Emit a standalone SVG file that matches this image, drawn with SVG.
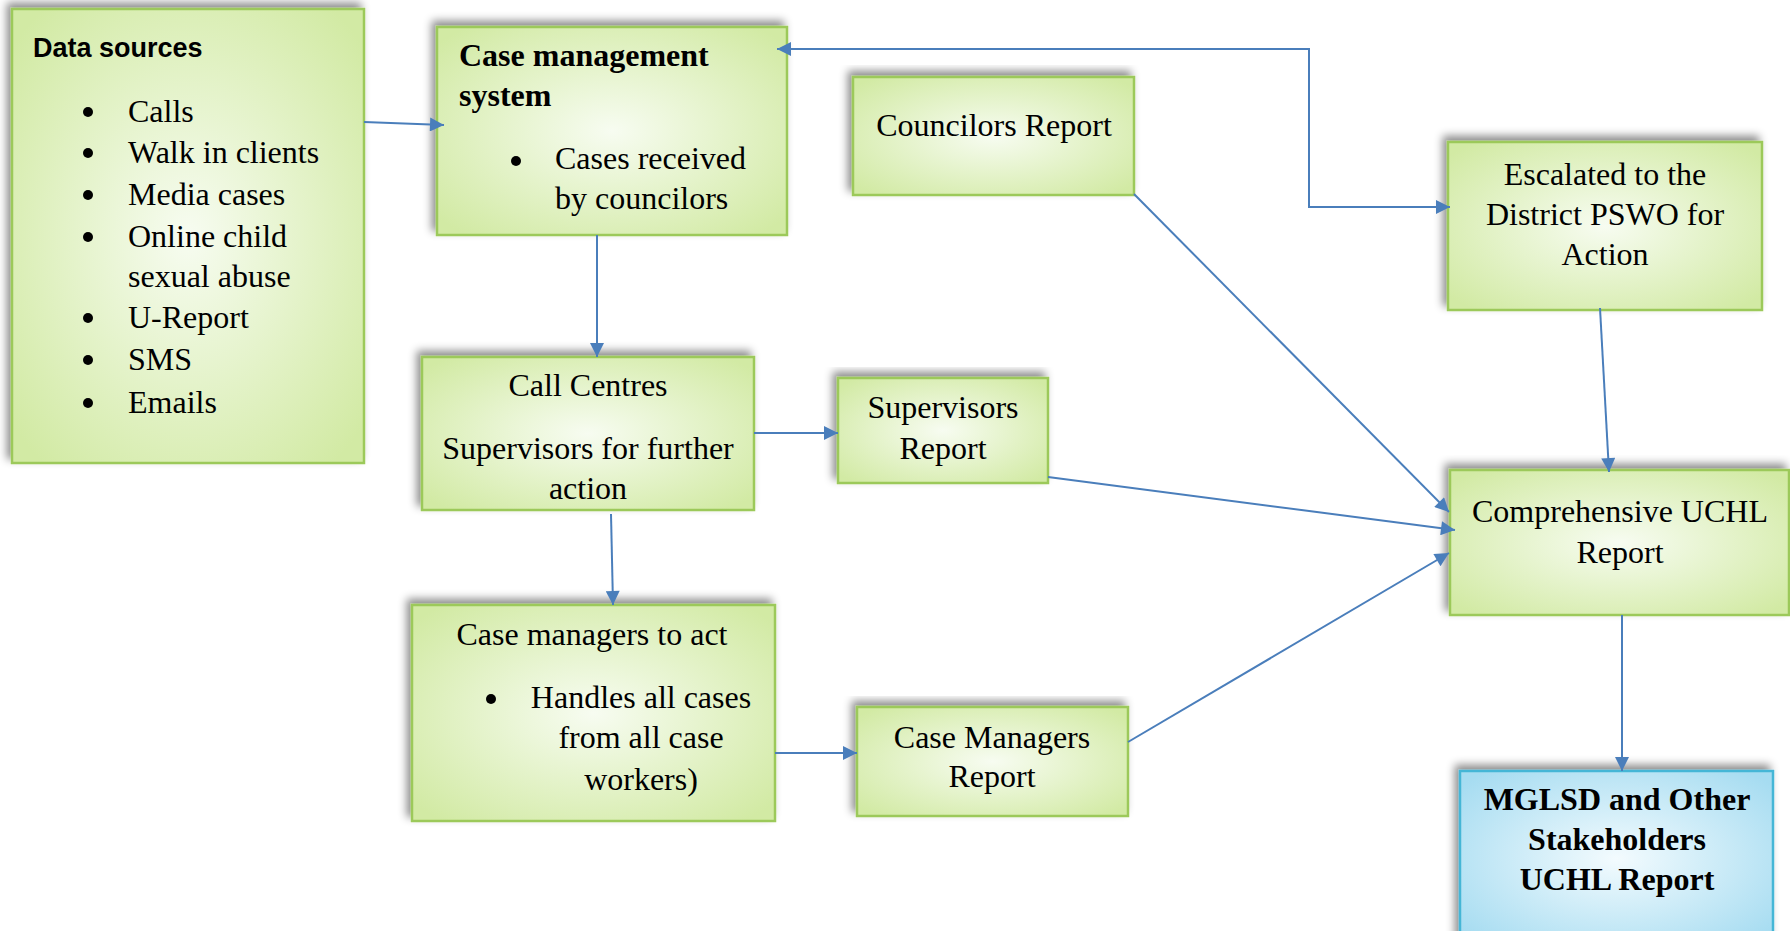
<svg xmlns="http://www.w3.org/2000/svg" width="1790" height="931" viewBox="0 0 1790 931">
<defs>
<radialGradient id="g" cx="50%" cy="50%" r="65%">
<stop offset="0" stop-color="#f7fcf1"/>
<stop offset="1" stop-color="#d2eaa4"/>
</radialGradient>
<radialGradient id="b" cx="50%" cy="50%" r="65%">
<stop offset="0" stop-color="#f3fbfe"/>
<stop offset="1" stop-color="#a6dcf1"/>
</radialGradient>
<filter id="sh" x="-10%" y="-10%" width="120%" height="120%">
<feDropShadow dx="-4" dy="-5" stdDeviation="4" flood-color="#000" flood-opacity="0.45"/>
</filter>
<marker id="ar" viewBox="0 0 10 10" refX="10" refY="5" markerUnits="userSpaceOnUse" markerWidth="17" markerHeight="14" orient="auto-start-reverse">
<path d="M0,0 L10,5 L0,10 z" fill="#4a7ebb"/>
</marker>
</defs>
<style>
.n{fill:url(#g);stroke:#9cc95a;stroke-width:2.5;filter:url(#sh)}
.nb{fill:url(#b);stroke:#44b6d6;stroke-width:2.5;filter:url(#sh)}
.t{font-family:"Liberation Serif","Times New Roman",serif;font-size:32px;fill:#000}
.c{text-anchor:middle}
.bd{font-weight:bold}
.s{font-family:"Liberation Sans",Arial,sans-serif;font-size:27px;font-weight:bold;fill:#000}
.e{fill:none;stroke:#4a7ebb;stroke-width:2;marker-end:url(#ar)}
</style>
<rect width="1790" height="931" fill="#fff"/>
<g id="data-sources">
<rect class="n" x="12" y="9" width="352" height="454"/>
<text class="s" x="33" y="57">Data sources</text>
<g fill="#000"><circle cx="88" cy="112" r="5"/><circle cx="88" cy="153" r="5"/><circle cx="88" cy="195" r="5"/><circle cx="88" cy="237" r="5"/><circle cx="88" cy="318" r="5"/><circle cx="88" cy="360" r="5"/><circle cx="88" cy="403" r="5"/></g>
<text class="t" x="128" y="122">Calls</text>
<text class="t" x="128" y="163">Walk in clients</text>
<text class="t" x="128" y="205">Media cases</text>
<text class="t" x="128" y="247">Online child</text>
<text class="t" x="128" y="287">sexual abuse</text>
<text class="t" x="128" y="328">U-Report</text>
<text class="t" x="128" y="370">SMS</text>
<text class="t" x="128" y="413">Emails</text>
</g>
<g id="case-management-system">
<rect class="n" x="437" y="27" width="350" height="208"/>
<text class="t bd" x="459" y="66">Case management</text>
<text class="t bd" x="459" y="106">system</text>
<circle cx="516" cy="161" r="5" fill="#000"/>
<text class="t" x="555" y="169">Cases received</text>
<text class="t" x="555" y="209">by councilors</text>
</g>
<g id="councilors-report">
<rect class="n" x="853" y="77" width="281" height="118"/>
<text class="t c" x="994" y="136">Councilors Report</text>
</g>
<g id="escalated">
<rect class="n" x="1448" y="142" width="314" height="168"/>
<text class="t c" x="1605" y="185">Escalated to the</text>
<text class="t c" x="1605" y="225">District PSWO for</text>
<text class="t c" x="1605" y="265">Action</text>
</g>
<g id="call-centres">
<rect class="n" x="422" y="357" width="332" height="153"/>
<text class="t c" x="588" y="396">Call Centres</text>
<text class="t c" x="588" y="459">Supervisors for further</text>
<text class="t c" x="588" y="499">action</text>
</g>
<g id="supervisors-report">
<rect class="n" x="838" y="378" width="210" height="105"/>
<text class="t c" x="943" y="418">Supervisors</text>
<text class="t c" x="943" y="459">Report</text>
</g>
<g id="comprehensive">
<rect class="n" x="1450" y="470" width="339" height="145"/>
<text class="t c" x="1620" y="522">Comprehensive UCHL</text>
<text class="t c" x="1620" y="563">Report</text>
</g>
<g id="case-managers-act">
<rect class="n" x="412" y="605" width="363" height="216"/>
<text class="t c" x="592" y="645">Case managers to act</text>
<circle cx="491" cy="699" r="5" fill="#000"/>
<text class="t c" x="641" y="708">Handles all cases</text>
<text class="t c" x="641" y="748">from all case</text>
<text class="t c" x="641" y="790">workers)</text>
</g>
<g id="case-managers-report">
<rect class="n" x="857" y="707" width="271" height="109"/>
<text class="t c" x="992" y="748">Case Managers</text>
<text class="t c" x="992" y="787">Report</text>
</g>
<g id="mglsd">
<rect class="nb" x="1460" y="771" width="313" height="175"/>
<text class="t c bd" x="1617" y="810">MGLSD and Other</text>
<text class="t c bd" x="1617" y="850">Stakeholders</text>
<text class="t c bd" x="1617" y="890">UCHL Report</text>
</g>
<g id="connectors">
<path class="e" d="M364,122 L444,125"/>
<path class="e" d="M777,49 L1309,49 L1309,207 L1450,207" style="marker-start:url(#ar)"/>
<path class="e" d="M597,235 L597,357"/>
<path class="e" d="M754,433 L838,433"/>
<path class="e" d="M611,514 L613,605"/>
<path class="e" d="M775,753 L857,753"/>
<path class="e" d="M1134,194 L1449,512"/>
<path class="e" d="M1048,477 L1455,530"/>
<path class="e" d="M1128,742 L1449,553"/>
<path class="e" d="M1600,308 L1609,472"/>
<path class="e" d="M1622,615 L1622,771"/>
</g>
</svg>
